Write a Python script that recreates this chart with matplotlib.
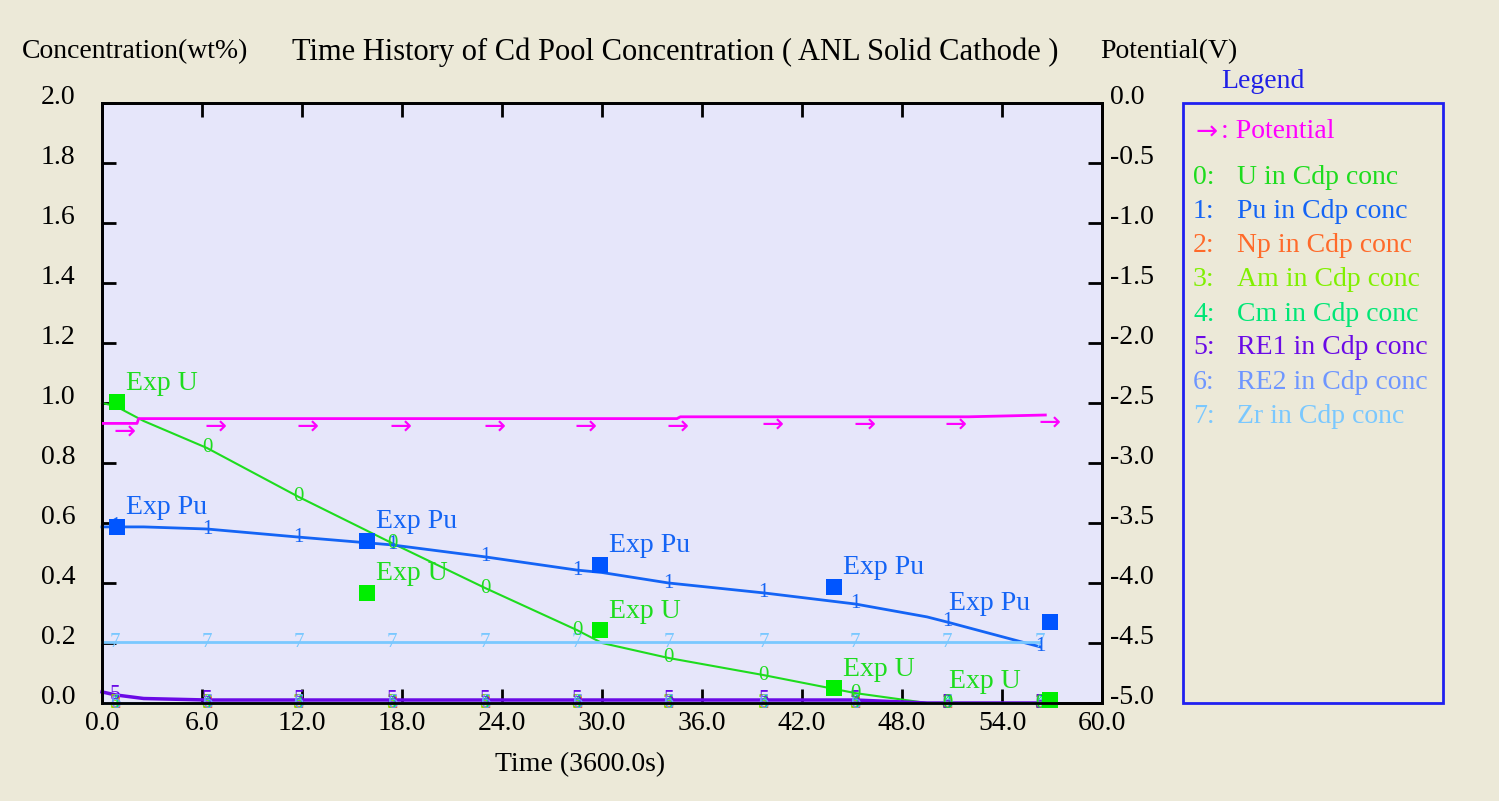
import matplotlib
matplotlib.use("Agg")
import matplotlib.pyplot as plt
import numpy as np
from matplotlib.transforms import ScaledTranslation
from matplotlib.patches import Rectangle

# ---------------- data ----------------
T = [0.0, 0.8, 2.5, 6.3, 11.8, 17.4, 23.0, 28.5, 30.0, 34.0, 39.7, 45.2, 49.5, 50.7, 56.3]
MARK_IDX = [1, 3, 4, 5, 6, 7, 9, 10, 11, 13, 14]

U_conc   = [1.00, 0.99, 0.94, 0.85, 0.687, 0.533, 0.383, 0.243, 0.200, 0.150, 0.093, 0.033, 0.0, 0.0, 0.0]
Pu_conc  = [0.587, 0.587, 0.587, 0.580, 0.553, 0.527, 0.487, 0.443, 0.435, 0.400, 0.367, 0.330, 0.287, 0.270, 0.187]
Np_conc  = [0.0] * 15
Am_conc  = [0.0] * 15
Cm_conc  = [0.0] * 15
RE1_conc = [0.037, 0.027, 0.015, 0.010, 0.010, 0.010, 0.010, 0.010, 0.010, 0.010, 0.010, 0.010, 0.0, 0.0, 0.0]
RE2_conc = [0.0] * 15
Zr_conc  = [0.203] * 15

pot_t = [0.0, 2.1, 2.2, 34.5, 34.7, 52.0, 56.6]
pot_v = [-2.67, -2.67, -2.63, -2.63, -2.615, -2.615, -2.60]
pot_mark_t = [0.8, 6.3, 11.8, 17.4, 23.0, 28.5, 34.0, 39.7, 45.2, 50.7, 56.3]
pot_mark_v = [-2.67, -2.63, -2.63, -2.63, -2.63, -2.63, -2.63, -2.615, -2.615, -2.615, -2.60]

exp_t  = [0.9, 15.9, 29.9, 43.9, 56.9]
exp_U  = [1.003, 0.367, 0.243, 0.05, 0.01]
exp_Pu = [0.587, 0.540, 0.460, 0.387, 0.270]

x_ticks = [0, 6, 12, 18, 24, 30, 36, 42, 48, 54, 60]
y_ticks = [0.0, 0.2, 0.4, 0.6, 0.8, 1.0, 1.2, 1.4, 1.6, 1.8, 2.0]
y2_ticks = [-5.0, -4.5, -4.0, -3.5, -3.0, -2.5, -2.0, -1.5, -1.0, -0.5, 0.0]

labels = ["U in Cdp conc", "Pu in Cdp conc", "Np in Cdp conc", "Am in Cdp conc",
          "Cm in Cdp conc", "RE1 in Cdp conc", "RE2 in Cdp conc", "Zr in Cdp conc"]

# ---------------- style ----------------
FONT = ['Liberation Serif', 'DejaVu Serif']
ARROW_FONT = ['DejaVu Sans']
plt.rcParams['font.family'] = FONT
FS = 20
BG = '#ECE9D8'
PLOT_BG = '#E6E6FA'
C_POT = '#FF00FF'
COLORS = ['#1EDC1E', '#1464F5', '#FF6A2A', '#80F000', '#00E676', '#6A0AE6', '#6E96FF', '#7AC8FF']
SQ_U = '#00EE00'
SQ_PU = '#0055FF'

W, H = 1499, 801
fig = plt.figure(figsize=(W / 100, H / 100), dpi=100, facecolor=BG)

def fx(x):
    return x / W

def fy(y):
    return 1 - y / H

ax = fig.add_axes([fx(102), fy(703), 1000 / W, 600 / H])
ax.set_facecolor(PLOT_BG)
ax.set_xlim(0, 60)
ax.set_ylim(0, 2.0)
ax2 = ax.twinx()
ax2.set_ylim(-5.0, 0.0)

for a in (ax, ax2):
    for s in a.spines.values():
        s.set_color('black')
        s.set_linewidth(2)
        s.set_zorder(1)

ax.set_xticks(x_ticks)
ax.set_xticklabels([f"{v:.1f}" for v in x_ticks])
ax.set_yticks(y_ticks)
ax.set_yticklabels([f"{v:.1f}" for v in y_ticks])
ax2.set_yticks(y2_ticks)
ax2.set_yticklabels([f"{v:.1f}" for v in y2_ticks])

ax.tick_params(axis='x', direction='in', top=True, bottom=True, length=10, width=2,
               labelsize=FS, pad=6)
ax.tick_params(axis='y', direction='in', left=True, right=False, length=10, width=2,
               labelsize=FS, pad=19)
ax2.tick_params(axis='y', direction='in', right=True, length=10, width=2,
                labelsize=FS, pad=6)

shift = ScaledTranslation(0, 9 / 100, fig.dpi_scale_trans)
for lab in ax.get_yticklabels():
    lab.set_transform(lab.get_transform() + shift)
for lab in ax2.get_yticklabels():
    lab.set_transform(lab.get_transform() + shift)

# ---------------- series ----------------
series = [U_conc, Pu_conc, Np_conc, Am_conc, Cm_conc, RE1_conc, RE2_conc, Zr_conc]
lws = [1.5, 2.0, 2.0, 2.0, 2.0, 2.5, 2.0, 2.0]
order = [2, 3, 4, 5, 6, 7, 1, 0]
for k in order:
    vals = series[k]
    ax.plot(T, vals, color=COLORS[k], lw=lws[k], zorder=3 + k * 0.1, clip_on=False)
    for i in MARK_IDX:
        ax.text(T[i], vals[i], str(k), color=COLORS[k], fontsize=15, ha='center', va='center',
                zorder=4, clip_on=False)

# potential
ax2.plot(pot_t, pot_v, color=C_POT, lw=2, zorder=3)
for t, v in zip(pot_mark_t, pot_mark_v):
    ax2.annotate("\u2192", (t, v), xytext=(9, -9), textcoords='offset pixels',
                 color=C_POT, fontsize=19, family=ARROW_FONT, ha='center', va='center',
                 zorder=4)

# experimental points
ax.scatter(exp_t, exp_U, marker='s', s=130, color=SQ_U, zorder=6, clip_on=False, linewidths=0)
ax.scatter(exp_t, exp_Pu, marker='s', s=130, color=SQ_PU, zorder=6, clip_on=False, linewidths=0)
for i, t in enumerate(exp_t):
    off = (9, 19) if i < len(exp_t) - 1 else (-101, 18)
    ax.annotate("Exp U", (t, exp_U[i]), xytext=off, textcoords='offset pixels',
                color=COLORS[0], fontsize=FS, ha='left', va='center', zorder=7,
                annotation_clip=False)
    ax.annotate("Exp Pu", (t, exp_Pu[i]), xytext=off, textcoords='offset pixels',
                color=COLORS[1], fontsize=FS, ha='left', va='center', zorder=7,
                annotation_clip=False)

# ---------------- texts ----------------
fig.text(fx(22), fy(52), "Concentration(wt%)", fontsize=FS, ha='left', va='center')
fig.text(fx(292), fy(52), "Time History of Cd Pool Concentration ( ANL Solid Cathode )",
         fontsize=22, ha='left', va='center')
fig.text(fx(1100), fy(52), "Potential(V)", fontsize=FS, ha='left', va='center')
fig.text(fx(580), fy(765), "Time (3600.0s)", fontsize=FS, ha='center', va='center')

# legend box
fig.patches.append(Rectangle((fx(1183), fy(703)), 260 / W, 600 / H, transform=fig.transFigure,
                             fill=False, edgecolor='#2020F0', linewidth=2))
fig.text(fx(1263), fy(82), "Legend", color='#2020E6', fontsize=FS, ha='center', va='center')
fig.text(fx(1207), fy(133), "\u2192", color=C_POT, fontsize=19, family=ARROW_FONT,
         ha='center', va='center')
fig.text(fx(1221), fy(131), ": Potential", color=C_POT, fontsize=FS, ha='left', va='center')
for k, lab in enumerate(labels):
    y = 178 + 34 * k
    fig.text(fx(1193), fy(y), f"{k}:", color=COLORS[k], fontsize=FS, ha='left', va='center')
    fig.text(fx(1237), fy(y), lab, color=COLORS[k], fontsize=FS, ha='left', va='center')

fig.savefig("out.png", dpi=100, facecolor=BG)
